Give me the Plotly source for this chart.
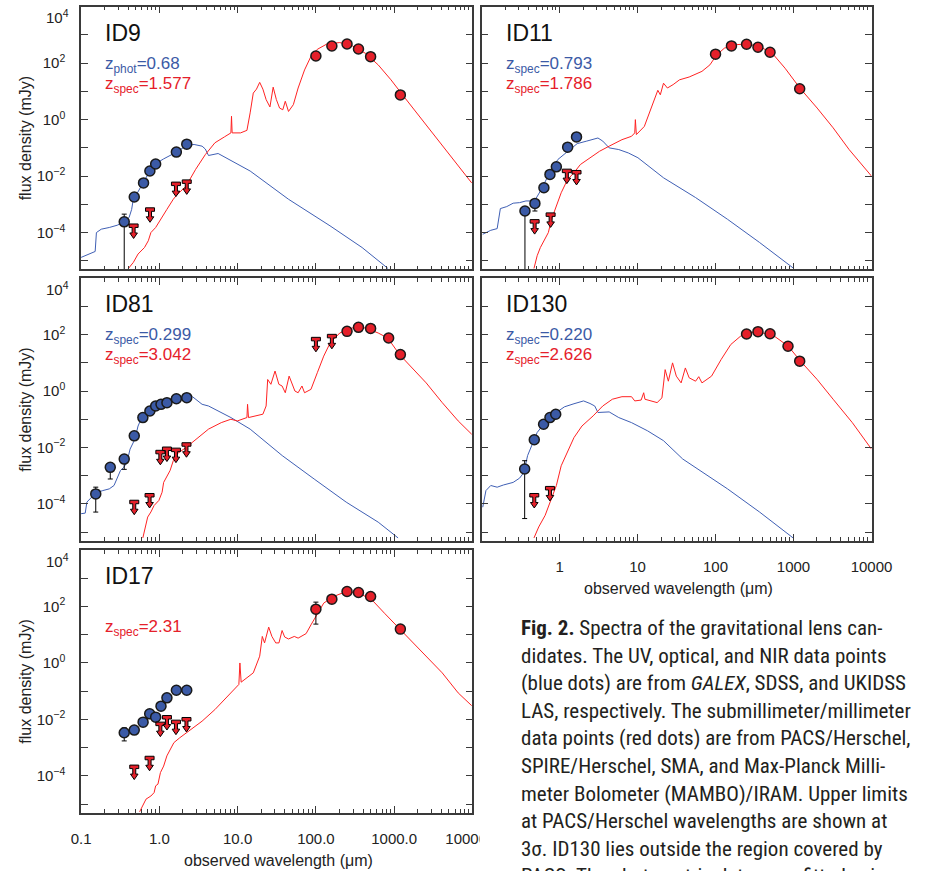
import numpy as np
import plotly.graph_objects as go

W, H = 935, 871
BLUE_DOT = '#3b5aa6'
BLUE_LINE = '#3f5fb4'
RED_DOT = '#e5202a'
RED_LINE = '#ff2222'
FRAME = '#3a3a3a'
TXT = '#222222'
FONT = 'Liberation Sans, Arial, sans-serif'

# ---------------------------------------------------------------- data
# model curves: log10(wavelength / um), log10(flux / mJy)
# ---- ID9
id9_blue_loglam = [-1.0, -0.836, -0.82, -0.804, -0.742, -0.640, -0.538, -0.448, -0.387, -0.354, -0.333, -0.292,
                   -0.202, -0.121, -0.047, 0.055, 0.219, 0.35, 0.444, 0.546, 0.587, 0.628, 0.751, 0.873, 1.16,
                   1.65, 2.18, 2.59, 2.92]
id9_blue_logf = [-4.88, -4.71, -4.67, -4.00, -3.88, -3.82, -3.74, -3.62, -3.47, -3.18, -2.82, -2.65, -2.24, -1.82,
                 -1.56, -1.39, -1.15, -0.91, -0.88, -0.94, -1.04, -1.27, -1.20, -1.39, -1.82, -2.82, -3.76, -4.53,
                 -5.27]
id9_red_loglam = [-0.395, -0.333, -0.272, -0.190, -0.141, -0.108, -0.047, 0.014, 0.096, 0.178, 0.219, 0.342, 0.464,
                  0.587, 0.710, 0.832, 0.914, 0.922, 0.930, 1.037, 1.119, 1.16, 1.20, 1.241, 1.282, 1.323, 1.364,
                  1.413, 1.454, 1.495, 1.536, 1.577, 1.609, 1.650, 1.712, 1.773, 1.855, 1.937, 2.018, 2.141, 2.305,
                  2.468, 2.632, 2.796, 2.959, 3.123, 3.286, 3.450, 3.614, 3.818, 3.99]
id9_red_logf = [-5.27, -5.06, -4.76, -4.53, -4.29, -4.00, -3.82, -3.53, -3.18, -2.82, -2.68, -2.35, -1.76, -1.24,
                -0.82, -0.61, -0.47, 0.12, -0.47, -0.47, -0.38, 0.24, 0.94, 1.08, 1.32, 1.08, 0.71, 0.45, 1.15, 0.71,
                0.41, 0.35, 0.65, 0.29, 0.53, 1.12, 1.76, 2.24, 2.49, 2.68, 2.73, 2.61, 2.35, 1.94, 1.41, 0.82, 0.24,
                -0.35, -0.94, -1.65, -2.24]
id9_opt_lam = [0.356, 0.478, 0.628, 0.757, 0.897, 1.65, 2.24]
id9_opt_f = [2.4e-4, 1.82e-3, 5.75e-3, 0.0151, 0.0269, 0.0708, 0.135]
id9_opt_eplus = [2.1e-4, 0, 0, 0, 0, 0, 0]
id9_opt_eminus = [2.399e-4, 0, 0, 0, 0, 0, 0]
id9_smm_lam = [100, 160, 250, 350, 500, 1200]
id9_smm_f = [180, 406, 479, 318, 170, 7.5]
id9_ul_lam = [0.469, 0.76, 1.63, 2.24]
id9_ul_f = [1.58e-4, 5.9e-4, 4.8e-3, 5.75e-3]

# ---- ID11
id11_blue_loglam = [-0.985, -0.882, -0.800, -0.779, -0.759, -0.677, -0.595, -0.513, -0.431, -0.349, -0.308, -0.246,
                    -0.185, -0.103, -0.021, 0.103, 0.226, 0.349, 0.492, 0.554, 0.636, 0.759, 0.882, 1.005, 1.333,
                    1.744, 2.154, 2.564, 3.003]
id11_blue_logf = [-4.06, -3.92, -3.86, -3.53, -3.15, -3.08, -2.96, -2.94, -2.88, -2.88, -2.82, -2.53, -2.18, -1.76,
                  -1.41, -1.12, -0.85, -0.76, -0.65, -0.76, -1.00, -1.06, -1.18, -1.35, -2.06, -2.76, -3.53, -4.35,
                  -5.27]
id11_red_loglam = [-0.328, -0.287, -0.246, -0.185, -0.144, -0.103, -0.041, 0.021, 0.103, 0.185, 0.267, 0.390, 0.513,
                   0.636, 0.8, 0.923, 0.964, 0.972, 0.985, 1.087, 1.169, 1.243, 1.26, 1.292, 1.333, 1.383, 1.456,
                   1.538, 1.662, 1.826, 1.928, 2.014, 2.113, 2.236, 2.400, 2.564, 2.728, 2.892, 3.081, 3.303, 3.508,
                   3.713, 4.0]
id11_red_logf = [-5.27, -4.82, -4.53, -4.24, -4.00, -3.53, -3.06, -2.59, -2.12, -1.88, -1.59, -1.35, -1.12, -0.94,
                 -0.71, -0.59, -0.47, 0.0, -0.53, -0.24, 0.35, 0.88, 1.04, 0.88, 1.29, 1.12, 1.24, 1.41, 1.51, 1.71,
                 1.94, 2.29, 2.53, 2.65, 2.68, 2.59, 2.35, 1.82, 1.12, 0.41, -0.29, -1.06, -2.0]
id11_opt_lam = [0.36, 0.483, 0.63, 0.753, 0.91, 1.27, 1.65]
id11_opt_f = [5.8e-4, 1.08e-3, 3.87e-3, 0.01146, 0.0213, 0.1057, 0.244]
id11_opt_eplus = [0, 0, 0, 0, 0, 0, 0]
id11_opt_eminus = [5.799e-4, 5.0e-4, 0, 0, 0, 0, 0]
id11_smm_lam = [100, 160, 250, 350, 500, 1200]
id11_smm_f = [208, 409, 469, 367, 244, 12.4]
id11_ul_lam = [0.479, 0.768, 1.24, 1.65]
id11_ul_f = [2.25e-4, 3.9e-4, 0.0138, 0.0124]

# ---- ID81
id81_blue_loglam = [-1.0, -0.947, -0.926, -0.886, -0.812, -0.722, -0.640, -0.579, -0.538, -0.497, -0.456, -0.415,
                    -0.374, -0.313, -0.272, -0.231, -0.149, -0.027, 0.096, 0.219, 0.342, 0.423, 0.485, 0.546, 0.628,
                    0.751, 0.914, 1.16, 1.57, 1.978, 2.387, 2.796, 3.05]
id81_blue_logf = [-4.35, -4.33, -3.94, -3.82, -3.61, -3.53, -3.47, -3.35, -3.06, -2.82, -2.71, -2.53, -2.06, -1.71,
                  -1.24, -0.98, -0.71, -0.51, -0.39, -0.29, -0.21, -0.20, -0.35, -0.47, -0.53, -0.71, -0.94, -1.35,
                  -2.29, -3.12, -3.94, -4.65, -5.21]
id81_red_loglam = [-0.211, -0.170, -0.149, -0.108, -0.067, -0.006, 0.035, 0.055, 0.137, 0.178, 0.219, 0.342, 0.464,
                   0.628, 0.791, 0.914, 0.996, 1.078, 1.119, 1.127, 1.139, 1.323, 1.364, 1.384, 1.425, 1.478, 1.527,
                   1.568, 1.609, 1.658, 1.691, 1.732, 1.773, 1.822, 1.855, 1.937, 2.018, 2.100, 2.182, 2.305, 2.468,
                   2.632, 2.796, 2.918, 3.070, 3.245, 3.409, 3.614, 3.818, 3.990]
id81_red_logf = [-5.21, -4.76, -4.47, -4.29, -4.06, -3.88, -3.59, -3.24, -2.82, -2.47, -2.24, -2.00, -1.71, -1.35,
                 -1.12, -1.00, -1.06, -0.98, -0.94, -0.47, -0.94, -0.82, -0.53, 0.41, 0.24, 0.71, 0.24, 0.18, -0.06,
                 0.53, 0.29, 0.0, -0.06, 0.18, -0.06, 0.06, 0.65, 1.24, 1.71, 2.06, 2.24, 2.24, 2.06, 1.88, 1.29,
                 0.76, 0.29, -0.41, -1.06, -1.53]
id81_opt_lam = [0.154, 0.236, 0.356, 0.478, 0.616, 0.757, 0.897, 1.05, 1.25, 1.65, 2.24]
id81_opt_f = [2.25e-4, 1.97e-3, 3.87e-3, 0.0258, 0.1146, 0.197, 0.296, 0.338, 0.387, 0.536, 0.582]
id81_opt_eplus = [1.65e-4, 7.5e-4, 0, 0, 0, 0, 0, 0, 0, 0, 0]
id81_opt_eminus = [1.74e-4, 1.21e-3, 2.2e-3, 0, 0, 0, 0, 0, 0, 0, 0]
id81_smm_lam = [250, 350, 500, 850, 1200]
id81_smm_f = [131, 182, 167, 76, 19.7]
id81_ul_lam = [0.478, 0.75, 1.03, 1.25, 1.63, 2.22, 100, 160]
id81_ul_f = [1.05e-4, 1.82e-4, 6.2e-3, 8.1e-3, 7.4e-3, 0.0115, 63, 80.5]

# ---- ID130
id130_blue_loglam = [-0.985, -0.944, -0.882, -0.8, -0.718, -0.595, -0.513, -0.472, -0.447, -0.410, -0.349, -0.287,
                     -0.205, -0.123, -0.041, 0.062, 0.185, 0.308, 0.390, 0.451, 0.492, 0.636, 0.759, 0.923, 1.128,
                     1.333, 1.579, 1.744, 2.154, 2.564, 2.995]
id130_blue_logf = [-4.12, -3.53, -3.35, -3.41, -3.33, -3.24, -3.09, -2.94, -2.76, -2.29, -1.88, -1.47, -1.18, -0.94,
                   -0.76, -0.56, -0.45, -0.35, -0.44, -0.53, -0.76, -0.74, -0.94, -1.12, -1.41, -1.76, -2.41, -2.71,
                   -3.47, -4.29, -5.21]
id130_red_loglam = [-0.328, -0.267, -0.185, -0.103, -0.041, 0.021, 0.103, 0.185, 0.287, 0.431, 0.554, 0.677, 0.8,
                    0.923, 0.964, 1.046, 1.079, 1.095, 1.251, 1.313, 1.354, 1.395, 1.449, 1.497, 1.559, 1.613, 1.662,
                    1.744, 1.785, 1.826, 1.949, 2.072, 2.195, 2.318, 2.441, 2.564, 2.728, 2.933, 3.081, 3.303, 3.508,
                    3.754, 4.0]
id130_red_logf = [-5.21, -4.82, -4.41, -3.82, -3.35, -2.65, -2.12, -1.65, -1.24, -0.88, -0.53, -0.29, -0.2, -0.2,
                  -0.35, -0.32, -0.06, -0.29, -0.41, -0.24, 0.76, 0.35, 1.0, 0.53, 0.29, 0.82, 0.47, 0.35, 0.51, 0.29,
                  0.53, 1.12, 1.65, 1.94, 2.08, 2.08, 2.0, 1.59, 1.09, 0.41, -0.29, -1.12, -2.06]
id130_opt_lam = [0.357, 0.474, 0.624, 0.753, 0.893]
id130_opt_f = [1.72e-3, 0.0187, 0.0667, 0.1146, 0.15]
id130_opt_eplus = [1.67e-3, 0, 0, 0, 0]
id130_opt_eminus = [1.69e-3, 0, 0, 0, 0]
id130_smm_lam = [250, 350, 500, 850, 1200]
id130_smm_f = [106, 128, 108, 38.7, 11.5]
id130_ul_lam = [0.474, 0.753]
id130_ul_f = [1.82e-4, 3.24e-4]

# ---- ID17
id17_red_loglam = [-0.252, -0.211, -0.170, -0.108, -0.067, -0.047, -0.018, 0.014, 0.055, 0.096, 0.137, 0.186, 0.260,
                   0.382, 0.546, 0.710, 0.873, 0.955, 1.016, 1.029, 1.045, 1.20, 1.282, 1.315, 1.344, 1.397, 1.438,
                   1.487, 1.528, 1.568, 1.601, 1.650, 1.724, 1.773, 1.875, 1.937, 2.018, 2.100, 2.223, 2.387, 2.550,
                   2.714, 2.877, 3.070, 3.245, 3.409, 3.614, 3.818, 3.99]
id17_red_logf = [-5.27, -5.06, -4.82, -4.71, -4.59, -4.35, -4.29, -3.88, -3.65, -3.29, -3.06, -2.82, -2.65, -2.41,
                 -2.06, -1.65, -1.18, -0.94, -0.76, 0.0, -0.68, -0.35, 0.24, 0.94, 0.71, 1.27, 0.94, 0.71, 0.71, 1.15,
                 0.92, 0.85, 0.94, 0.88, 1.04, 1.35, 1.76, 2.12, 2.35, 2.53, 2.47, 2.24, 1.76, 1.20, 0.71, 0.24,
                 -0.35, -1.06, -1.51]
id17_opt_lam = [0.356, 0.478, 0.62, 0.753, 0.897, 1.05, 1.25, 1.65, 2.24]
id17_opt_f = [3.38e-3, 4.2e-3, 8.05e-3, 0.0158, 0.0121, 0.0296, 0.0582, 0.108, 0.108]
id17_opt_eplus = [1.7e-3, 0, 0, 0, 0, 0, 0, 0, 0]
id17_opt_eminus = [1.64e-3, 0, 0, 0, 0, 0, 0, 0, 0]
id17_smm_lam = [100, 160, 250, 350, 500, 1200]
id17_smm_f = [80.5, 182, 338, 312, 225, 15.8]
id17_smm_eplus = [62, 0, 0, 0, 0, 0]
id17_smm_eminus = [56.7, 0, 0, 0, 0, 0]
id17_ul_lam = [0.478, 0.75, 1.03, 1.25, 1.63, 2.22]
id17_ul_f = [1.9e-4, 3.9e-4, 6.3e-3, 0.0108, 7.4e-3, 9.2e-3]

panel_names = ['ID9', 'ID11', 'ID81', 'ID130', 'ID17']
z_blue = ['z<sub>phot</sub>=0.68', 'z<sub>spec</sub>=0.793', 'z<sub>spec</sub>=0.299', 'z<sub>spec</sub>=0.220', None]
z_red = ['z<sub>spec</sub>=1.577', 'z<sub>spec</sub>=1.786', 'z<sub>spec</sub>=3.042', 'z<sub>spec</sub>=2.626',
         'z<sub>spec</sub>=2.31']

x_major = [0.1, 1, 10, 100, 1000, 10000]
x_minor = [m * 10.0 ** e for e in range(-1, 4) for m in range(2, 10)]
y_major = [1e-4, 1e-2, 1, 1e2, 1e4]
y_minor = [1e-5, 1e-3, 1e-1, 10, 1e3]
y_ticktext = ['10<sup>\u22124</sup>', '10<sup>\u22122</sup>', '10<sup>0</sup>', '10<sup>2</sup>', '']

caption_lines = [
    "<b>Fig. 2.</b> Spectra of the gravitational lens can-",
    "didates. The UV, optical, and NIR data points",
    "(blue dots) are from <i>GALEX</i>, SDSS, and UKIDSS",
    "LAS, respectively. The submillimeter/millimeter",
    "data points (red dots) are from PACS/Herschel,",
    "SPIRE/Herschel, SMA, and Max-Planck Milli-",
    "meter Bolometer (MAMBO)/IRAM. Upper limits",
    "at PACS/Herschel wavelengths are shown at",
    "3\u03c3. ID130 lies outside the region covered by",
    "PACS. The photometric data were fitted using",
]

# ---------------------------------------------------------------- layout geometry (pixels)
col_x = [(74, 481.5), (491, 897)]
row_y = [(6.7, 269.3), (278.3, 540.5), (550, 812.7)]
grid = [(0, 0), (1, 0), (0, 1), (1, 1), (0, 2)]


def px(x, y):
    return x / W, 1 - y / H


panels = [
    dict(blue=(id9_blue_loglam, id9_blue_logf), red=(id9_red_loglam, id9_red_logf),
         opt=(id9_opt_lam, id9_opt_f, id9_opt_eplus, id9_opt_eminus),
         smm=(id9_smm_lam, id9_smm_f, None, None), ul=(id9_ul_lam, id9_ul_f)),
    dict(blue=(id11_blue_loglam, id11_blue_logf), red=(id11_red_loglam, id11_red_logf),
         opt=(id11_opt_lam, id11_opt_f, id11_opt_eplus, id11_opt_eminus),
         smm=(id11_smm_lam, id11_smm_f, None, None), ul=(id11_ul_lam, id11_ul_f)),
    dict(blue=(id81_blue_loglam, id81_blue_logf), red=(id81_red_loglam, id81_red_logf),
         opt=(id81_opt_lam, id81_opt_f, id81_opt_eplus, id81_opt_eminus),
         smm=(id81_smm_lam, id81_smm_f, None, None), ul=(id81_ul_lam, id81_ul_f)),
    dict(blue=(id130_blue_loglam, id130_blue_logf), red=(id130_red_loglam, id130_red_logf),
         opt=(id130_opt_lam, id130_opt_f, id130_opt_eplus, id130_opt_eminus),
         smm=(id130_smm_lam, id130_smm_f, None, None), ul=(id130_ul_lam, id130_ul_f)),
    dict(blue=None, red=(id17_red_loglam, id17_red_logf),
         opt=(id17_opt_lam, id17_opt_f, id17_opt_eplus, id17_opt_eminus),
         smm=(id17_smm_lam, id17_smm_f, id17_smm_eplus, id17_smm_eminus), ul=(id17_ul_lam, id17_ul_f)),
]

# upper-limit glyph: a "T" bar with a downward arrow (pixel units around the limit value)
UL_PATH = "M-4.5,3 L4.5,3 L4.5,-0.5 L1.5,-0.5 L1.5,-6 L3.8,-6 L0,-11.5 L-3.8,-6 L-1.5,-6 L-1.5,-0.5 L-4.5,-0.5 Z"

fig = go.Figure()
layout = dict(width=W, height=H, margin=dict(l=0, r=0, t=0, b=0), paper_bgcolor='white',
              plot_bgcolor='white', showlegend=False, font=dict(family=FONT, color=TXT))
shapes = []
annotations = []

for i, p in enumerate(panels):
    col, row = grid[i]
    k = '' if i == 0 else str(i + 1)
    xr, yr = 'x' + k, 'y' + k
    x0, x1 = col_x[col]
    y0, y1 = row_y[row]

    if p['blue'] is not None:
        fig.add_trace(go.Scatter(x=10 ** np.array(p['blue'][0]), y=10 ** np.array(p['blue'][1]), mode='lines',
                                 line=dict(color=BLUE_LINE, width=1), xaxis=xr, yaxis=yr, hoverinfo='skip'))
    fig.add_trace(go.Scatter(x=10 ** np.array(p['red'][0]), y=10 ** np.array(p['red'][1]), mode='lines',
                             line=dict(color=RED_LINE, width=1), xaxis=xr, yaxis=yr, hoverinfo='skip'))
    lam, f, ep, em = p['opt']
    fig.add_trace(go.Scatter(x=lam, y=f, mode='markers', xaxis=xr, yaxis=yr,
                             marker=dict(size=10, color=BLUE_DOT, line=dict(color='#1a1a1a', width=1.5)),
                             error_y=dict(type='data', symmetric=False, array=ep, arrayminus=em,
                                          color='black', thickness=1, width=2.5)))
    lam, f, ep, em = p['smm']
    ed = dict(visible=False) if ep is None else dict(type='data', symmetric=False, array=ep, arrayminus=em,
                                                    color='black', thickness=1, width=2.5)
    fig.add_trace(go.Scatter(x=lam, y=f, mode='markers', xaxis=xr, yaxis=yr,
                             marker=dict(size=10, color=RED_DOT, line=dict(color='#1a1a1a', width=1.5)),
                             error_y=ed))
    for ul_l, ul_f in zip(*p['ul']):
        shapes.append(dict(type='path', xref=xr, yref=yr, xsizemode='pixel', ysizemode='pixel',
                           xanchor=ul_l, yanchor=ul_f, path=UL_PATH, fillcolor=RED_DOT,
                           line=dict(color='black', width=1), layer='above'))

    bottom_labels = (i == 4) or (i == 3)
    if i == 4:
        xt = ['0.1', '1.0', '10.0', '100.0', '1000.0', '10000.0']
    else:
        xt = ['', '1', '10', '100', '1000', '10000']
    xa = dict(type='log', range=[-1, 4], domain=[x0 / W, x1 / W], anchor=yr, showgrid=False, zeroline=False,
              showline=True, linecolor=FRAME, linewidth=1.5, mirror='allticks', ticks='inside', ticklen=7,
              tickwidth=1, tickcolor=FRAME, tickvals=x_major, ticktext=xt, showticklabels=bottom_labels,
              tickfont=dict(size=15, color=TXT, family=FONT), ticklabelstandoff=12,
              minor=dict(tickvals=x_minor, ticks='inside', ticklen=4, tickwidth=1, tickcolor=FRAME,
                         showgrid=False))
    ya = dict(type='log', range=[np.log10(5e-6), 4], domain=[1 - y1 / H, 1 - y0 / H], anchor=xr, showgrid=False,
              zeroline=False, showline=True, linecolor=FRAME, linewidth=1.5, mirror='allticks', ticks='inside',
              ticklen=7, tickwidth=1, tickcolor=FRAME, tickvals=y_major, ticktext=y_ticktext,
              showticklabels=(col == 0), tickfont=dict(size=15, color=TXT, family=FONT), ticklabelstandoff=11,
              minor=dict(tickvals=y_minor, ticks='inside', ticklen=7, tickwidth=1, tickcolor=FRAME,
                         showgrid=False))
    layout['xaxis' + k] = xa
    layout['yaxis' + k] = ya

    # panel texts
    tx = x0 + 23
    ax_, ay_ = px(tx, y0 + 26)
    annotations.append(dict(text=panel_names[i], x=ax_, y=ay_, xref='paper', yref='paper', xanchor='left',
                            yanchor='middle', showarrow=False, font=dict(size=23, color='#111111', family=FONT)))
    if z_blue[i] is not None:
        ax_, ay_ = px(tx, y0 + 58)
        annotations.append(dict(text=z_blue[i], x=ax_, y=ay_, xref='paper', yref='paper', xanchor='left',
                                yanchor='middle', showarrow=False, font=dict(size=17, color=BLUE_DOT, family=FONT)))
    ax_, ay_ = px(tx, y0 + 78)
    annotations.append(dict(text=z_red[i], x=ax_, y=ay_, xref='paper', yref='paper', xanchor='left',
                            yanchor='middle', showarrow=False, font=dict(size=17, color=RED_DOT, family=FONT)))
    if col == 0:
        ax_, ay_ = px(16, (y0 + y1) / 2)
        annotations.append(dict(text='flux density (mJy)', x=ax_, y=ay_, xref='paper', yref='paper',
                                xanchor='center', yanchor='middle', textangle=-90, showarrow=False,
                                font=dict(size=16, color=TXT, family=FONT)))
        ax_, ay_ = px(63, y0 + 10)
        annotations.append(dict(text='10<sup>4</sup>', x=ax_, y=ay_, xref='paper', yref='paper', xanchor='right',
                                yanchor='middle', showarrow=False, font=dict(size=15, color=TXT, family=FONT)))
    if bottom_labels:
        ax_, ay_ = px((x0 + x1) / 2 + 2, y1 + 48)
        annotations.append(dict(text='observed wavelength (\u03bcm)', x=ax_, y=ay_, xref='paper', yref='paper',
                                xanchor='center', yanchor='middle', showarrow=False,
                                font=dict(size=16, color=TXT, family=FONT)))

# clip the last bottom-left tick label like the cropped original
shapes.append(dict(type='rect', xref='paper', yref='paper', x0=489 / W, x1=1, y0=1 - 850 / H, y1=1 - 822 / H,
                   fillcolor='white', line=dict(width=0), layer='above'))

CAP_FONT = 'Liberation Sans Narrow, Arial Narrow, Roboto Condensed, Liberation Sans, sans-serif'
for j, line in enumerate(caption_lines):
    ax_, ay_ = px(530, 628 + 27.6 * j)
    annotations.append(dict(text=line, x=ax_, y=ay_, xref='paper', yref='paper', xanchor='left',
                            yanchor='middle', showarrow=False, font=dict(size=21, color='#231f20', family=CAP_FONT)))

layout['shapes'] = shapes
layout['annotations'] = annotations
fig.update_layout(**layout)
fig.write_html('out.html', config={'displayModeBar': False},
               post_script="document.body.style.margin='0px';document.body.style.padding='0px';"
                           "document.body.style.overflow='hidden';")
